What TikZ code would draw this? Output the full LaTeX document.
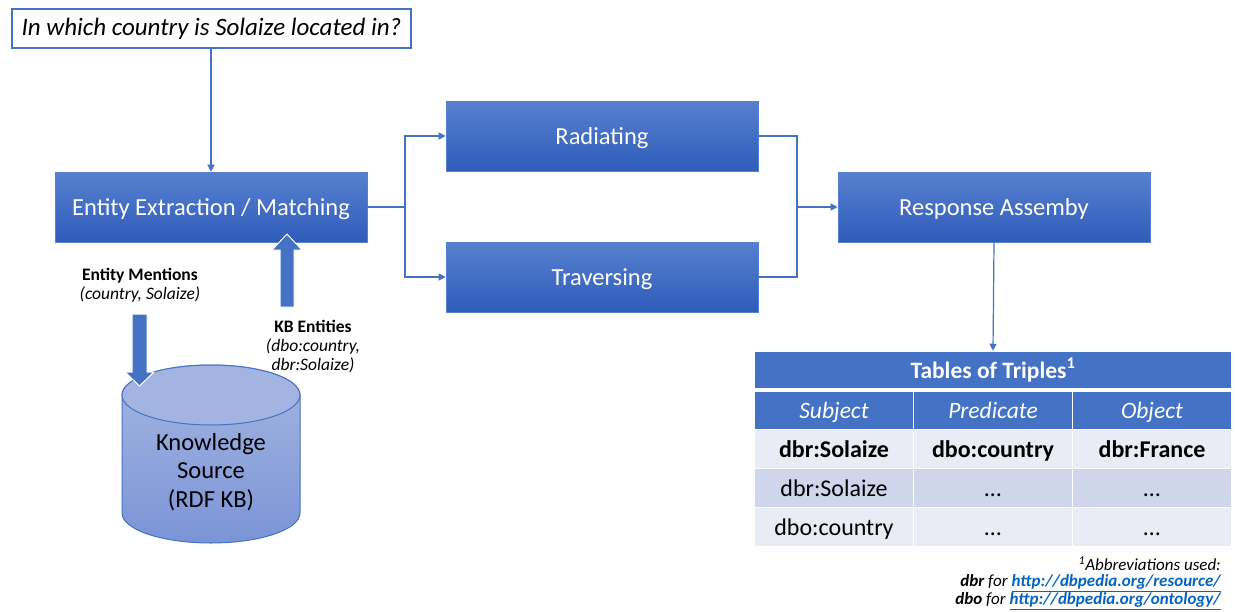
\documentclass[tikz,border=0pt]{standalone}
\usepackage{fontspec}
\setmainfont{Carlito}
\usetikzlibrary{arrows.meta,shapes.geometric}
\definecolor{acc}{HTML}{4472C4}
\definecolor{rowA}{HTML}{E9EBF5}
\definecolor{rowB}{HTML}{CFD5EA}
\definecolor{link}{HTML}{0563C1}
\definecolor{boxtop}{RGB}{88,128,208}
\definecolor{boxmid}{RGB}{59,106,206}
\definecolor{boxbot}{RGB}{46,92,186}
\tikzset{
  procbox/.style={draw=boxtop, line width=0.6pt, top color=boxtop, middle color=boxmid, bottom color=boxbot, text=white,
    minimum width=312pt, minimum height=70pt, font=\fontsize{24.5}{26}\selectfont, inner sep=0, text height=21pt, text depth=5pt},
  conn/.style={draw=acc, line width=1.2pt, -{Triangle[length=7pt,width=7pt]}},
  plain/.style={draw=acc, line width=1.2pt},
  cell/.style={minimum width=159pt, minimum height=39pt, inner sep=0, draw=white, line width=1.5pt, font=\fontsize{24}{26}\selectfont,
    text height=21pt, text depth=5pt},
  hdr/.style={cell, fill=acc, text=white, font=\fontsize{23.5}{26}\selectfont\itshape},
  lbl/.style={inner sep=0, align=center, font=\fontsize{17.5}{19}\selectfont},
  blockarrow/.style={fill=acc, draw=white, line width=1pt},
  foot/.style={inner sep=0, anchor=east, font=\fontsize{17}{19}\selectfont\itshape},
}
\begin{document}
\begin{tikzpicture}[x=1pt,y=-1pt]
\useasboundingbox (0,0) rectangle (1235,611);
% question
\node[draw=acc, line width=1.2pt, fill=white, minimum width=399pt, minimum height=39pt, inner sep=0,
  font=\fontsize{25}{27}\selectfont\itshape] (q) at (211.5,28.5) {In which country is Solaize located in?};
% process boxes
\node[procbox] (ent) at (211,207) {Entity Extraction / Matching};
\node[procbox] (rad) at (602,136) {Radiating};
\node[procbox] (trav) at (602,277) {Traversing};
\node[procbox] (resp) at (994,207) {Response Assemby};
% connectors
\draw[conn] (q.south -| ent.north) -- (ent.north);
\coordinate (split) at (405,207);
\coordinate (join) at (797,207);
\draw[plain] (ent.east) -- (split);
\draw[conn] (split) |- (rad.west);
\draw[conn] (split) |- (trav.west);
\draw[plain] (rad.east) -| (join);
\draw[plain] (trav.east) -| (join);
\draw[conn] (join) -- (resp.west);
% cylinder
\shade[top color={rgb,255:red,166;green,182;blue,226}, bottom color={rgb,255:red,122;green,148;blue,214}, draw=acc, line width=1pt]
  (122,395) -- (122,513) arc[start angle=180, end angle=360, x radius=89pt, y radius=30pt] -- (300,395)
  arc[start angle=0, end angle=180, x radius=89pt, y radius=30pt] -- cycle;
\draw[acc, line width=1pt, fill={rgb,255:red,164;green,180;blue,226}] (211,395) ellipse [x radius=89pt, y radius=30pt];
\node[inner sep=0, align=center, font=\fontsize{24.5}{28.5}\selectfont] (ks) at (211,472) {Knowledge\\Source\\(RDF KB)};
% block arrows
\filldraw[blockarrow] (132,314) -- (147,314) -- (147,372) -- (154,372) -- (139.5,386) -- (125,372) -- (132,372) -- cycle;
\filldraw[blockarrow] (280,307) -- (294,307) -- (294,250) -- (302,250) -- (287,234) -- (272,250) -- (280,250) -- cycle;
\node[lbl] (em) at (140,285) {\textbf{Entity Mentions}\\\textit{(country, Solaize)}};
\node[lbl] (kb) at (313,347) {\textbf{KB Entities}\\\textit{(dbo:country,}\\\textit{dbr:Solaize)}};
% table
\node[cell, fill=acc, text=white, minimum width=477pt, minimum height=37pt, font=\fontsize{23.5}{26}\selectfont\bfseries] (title) at (993,370) {Tables of Triples\textsuperscript{1}};
\draw[conn] (resp.south) -- (title.north);
\node[hdr] (h1) at (834,410.5) {Subject};
\node[hdr] (h2) at (993,410.5) {Predicate};
\node[hdr] (h3) at (1152,410.5) {Object};
\node[cell, fill=rowA, font=\fontsize{24}{26}\selectfont\bfseries] (a1) at (834,449) {dbr:Solaize};
\node[cell, fill=rowA, font=\fontsize{24}{26}\selectfont\bfseries] (a2) at (993,449) {dbo:country};
\node[cell, fill=rowA, font=\fontsize{24}{26}\selectfont\bfseries] (a3) at (1152,449) {dbr:France};
\node[cell, fill=rowB] (b1) at (834,488) {dbr:Solaize};
\node[cell, fill=rowB] (b2) at (993,488) {…};
\node[cell, fill=rowB] (b3) at (1152,488) {…};
\node[cell, fill=rowA] (c1) at (834,527) {dbo:country};
\node[cell, fill=rowA] (c2) at (993,527) {…};
\node[cell, fill=rowA] (c3) at (1152,527) {…};
% footnote
\node[foot] (f1) at (1221,564) {\textsuperscript{1}Abbreviations used:};
\node[foot] (f2) at (1221,583) {\textbf{dbr} for \textcolor{link}{\textbf{\underline{http://dbpedia.org/resource/}}}};
\node[foot] (f3) at (1221,601) {\textbf{dbo} for \textcolor{link}{\textbf{\underline{http://dbpedia.org/ontology/}}}};
\end{tikzpicture}
\end{document}
